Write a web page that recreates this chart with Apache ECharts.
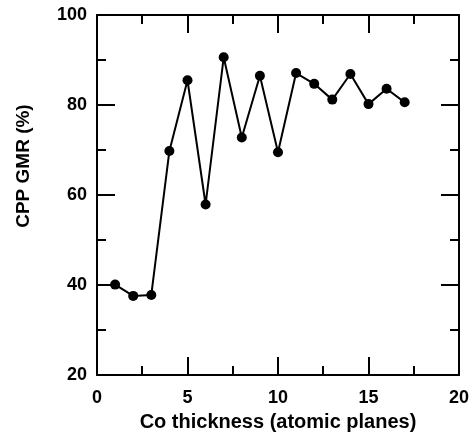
<!DOCTYPE html>
<html>
<head>
<meta charset="utf-8">
<script src="https://cdn.jsdelivr.net/npm/echarts@6/dist/echarts.min.js"></script>
<style>
html,body{margin:0;padding:0;background:#fff;}
#c{width:472px;height:437px;}
</style>
</head>
<body>
<div id="c"></div>
<script>
const thickness = [1, 2, 3, 4, 5, 6, 7, 8, 9, 10, 11, 12, 13, 14, 15, 16, 17];
const gmr = [40.1, 37.6, 37.8, 69.8, 85.5, 57.9, 90.6, 72.8, 86.5, 69.5, 87.1, 84.7, 81.2, 86.9, 80.2, 83.6, 80.6];
const xTicks = [0, 5, 10, 15, 20];
const yTicks = [20, 40, 60, 80, 100];

const FONT = '"Liberation Sans", Arial, Helvetica, sans-serif';
function axisLine() { return {show: true, onZero: false, lineStyle: {color: '#000', width: 2}}; }
function tick() { return {show: true, inside: true, length: 18, lineStyle: {color: '#000', width: 2}}; }
function minor() { return {show: true, splitNumber: 2, length: 9, lineStyle: {color: '#000', width: 2}}; }
function labelStyle(m) { return {margin: m, color: '#000', fontFamily: FONT, fontWeight: 'bold', fontSize: 18}; }

function xAxis(pos, withLabel) {
  const a = {
    type: 'value', position: pos, min: xTicks[0], max: xTicks[xTicks.length - 1], interval: 5,
    axisLine: axisLine(), axisTick: tick(), minorTick: minor(), splitLine: {show: false},
    axisLabel: withLabel ? labelStyle(14) : {show: false}
  };
  if (withLabel) {
    a.name = 'Co thickness (atomic planes)';
    a.nameLocation = 'middle';
    a.nameGap = 34;
    a.nameTextStyle = {color: '#000', fontFamily: FONT, fontWeight: 'bold', fontSize: 20};
  }
  return a;
}
function yAxis(pos, withLabel) {
  const a = {
    type: 'value', position: pos, min: yTicks[0], max: yTicks[yTicks.length - 1], interval: 20,
    axisLine: axisLine(), axisTick: tick(), minorTick: minor(), splitLine: {show: false},
    axisLabel: withLabel ? labelStyle(10) : {show: false}
  };
  if (withLabel) {
    a.name = 'CPP GMR (%)';
    a.nameLocation = 'middle';
    a.nameGap = 64;
    a.nameRotate = 90;
    a.nameTextStyle = {color: '#000', fontFamily: FONT, fontWeight: 'bold', fontSize: 19, padding: [0, 0, 0, 58]};
  }
  return a;
}

const chart = echarts.init(document.getElementById('c'));
chart.setOption({
  animation: false,
  backgroundColor: '#fff',
  grid: {left: 97, right: 11, top: 15, bottom: 55, containLabel: false},
  xAxis: [xAxis('bottom', true), xAxis('top', false)],
  yAxis: [yAxis('left', true), yAxis('right', false)],
  series: [{
    type: 'line',
    xAxisIndex: 0, yAxisIndex: 0,
    data: thickness.map((x, i) => [x, gmr[i]]),
    symbol: 'circle', symbolSize: 10,
    lineStyle: {color: '#000', width: 2},
    itemStyle: {color: '#000'}
  }]
});
</script>
</body>
</html>
